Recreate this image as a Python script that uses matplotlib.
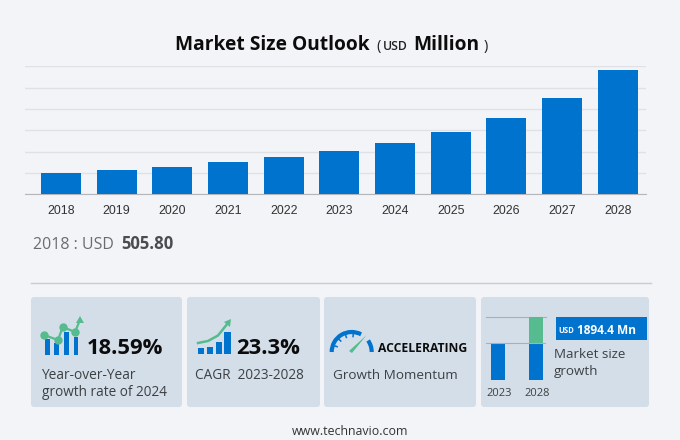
import matplotlib
matplotlib.use('Agg')
import matplotlib.pyplot as plt
import numpy as np
from matplotlib.patches import FancyBboxPatch, Rectangle, Arc, Polygon

years = [2018, 2019, 2020, 2021, 2022, 2023, 2024, 2025, 2026, 2027, 2028]
market_size = [505.8, 569, 646, 749, 873, 1021, 1211, 1459, 1794, 2248, 2915]
y_ticks = [0, 500, 1000, 1500, 2000, 2500, 3000]
mini_years = ['2023', '2028']
mini_base = [55, 55]
mini_added = [0, 40]

BG = '#f3f4f7'
BLUE = '#0073cf'
GREEN = '#56bb8e'
PANEL = '#d3dee9'
DARK = '#3c4043'

W, H = 680, 440
fig = plt.figure(figsize=(W / 100, H / 100), dpi=100, facecolor=BG)


def axes_px(x0, y0, x1, y1):
    # pixel box measured from the top left of the picture
    return fig.add_axes([x0 / W, 1 - y1 / H, (x1 - x0) / W, (y1 - y0) / H])


# main bars
ax = axes_px(25, 66.2, 646, 194.3)
ax.set_facecolor('none')
ax.bar(range(len(years)), market_size, width=0.72, color=BLUE, zorder=3)
ax.set_xlim(-0.647, 10.51)
ax.set_ylim(0, 3000)
ax.set_yticks(y_ticks)
ax.set_yticklabels([])
ax.set_xticks(range(len(years)))
ax.set_xticklabels(years, fontsize=8.9, family='Liberation Sans', color='#333333')
ax.tick_params(axis='both', length=0)
ax.tick_params(axis='x', pad=7.5)
ax.grid(axis='y', color='#dfe1e6', linewidth=1, zorder=0)
for s in ['top', 'left', 'right']:
    ax.spines[s].set_visible(False)
ax.spines['bottom'].set_color('#b4b6ba')

# everything else is placed in picture pixels
bg = fig.add_axes([0, 0, 1, 1], zorder=5)
bg.set_xlim(0, W)
bg.set_ylim(H, 0)
bg.axis('off')


def txt(x, y, s, size, color=DARK, weight='normal', ha='left', family='Open Sans'):
    bg.text(x, y, s, fontsize=size, color=color, fontweight=weight, ha=ha,
            va='baseline', family=family)


txt(175, 50, 'Market Size Outlook', 13.8, '#0c0c0c', 'bold')
txt(376, 50, '(', 10.5, '#222222')
txt(383, 50, 'USD', 8.8, '#222222', 'semibold')
txt(413, 50, 'Million', 13.8, '#0c0c0c', 'bold')
txt(484, 50, ')', 10.5, '#222222')

txt(33, 249, '2018 : USD', 11.5, '#6a6d70')
txt(121, 249, '505.80', 12, '#4a4c4f', 'bold')

bg.plot([31, 651], [283.5, 283.5], color='#c9cbd0', lw=1)

# panels
for x0, x1 in [(31, 182), (187, 320), (324, 476), (481, 649)]:
    bg.add_patch(FancyBboxPatch((x0 + 3, 300), x1 - x0 - 6, 104,
                                boxstyle='round,pad=3', fc=PANEL, ec='none'))

# panel 1 icon
for x, top in [(47.3, 339), (56.7, 343), (66.7, 332), (76, 337)]:
    bg.add_patch(Rectangle((x - 2.4, top), 4.8, 355 - top, fc=BLUE, ec='none'))
line_x = [44, 58, 62.7, 75, 80]
line_y = [335, 340, 327, 332, 320]
bg.plot(line_x, line_y, color=GREEN, lw=1.6)
bg.plot(line_x[:4], line_y[:4], 'o', color=GREEN, ms=5)
bg.add_patch(Polygon([[80, 316], [76, 323], [84, 323]], fc=GREEN, ec='none'))
txt(87, 354, '18.59%', 15.8, '#0c0c0c', 'bold')
txt(41.5, 379, 'Year-over-Year', 9.9)
txt(41.5, 396, 'growth rate of 2024', 9.8)

# panel 2 icon
for x, top in [(201, 348), (210, 346.7), (219, 341.7), (227.3, 332)]:
    bg.add_patch(Rectangle((x - 3.2, top), 6.4, 354 - top, fc=BLUE, ec='none'))
bg.plot([198, 208, 218, 228], [343, 341, 335.5, 323], color=GREEN, lw=1.8)
bg.add_patch(Polygon([[231, 319], [224, 322], [230, 327]], fc=GREEN, ec='none'))
txt(236, 354, '23.3%', 15.8, '#0c0c0c', 'bold')
txt(195, 379, 'CAGR  2023-2028', 9.8)

# panel 3 gauge
bg.add_patch(Arc((351.7, 352), 40, 40, theta1=180, theta2=298, color=BLUE, lw=3))
bg.add_patch(Arc((351.7, 352), 40, 40, theta1=325, theta2=360, color=BLUE, lw=3))
for deg in [200, 225, 250, 275]:
    a = np.radians(deg)
    bg.plot([351.7 + 19 * np.cos(a), 351.7 + 15.5 * np.cos(a)],
            [352 + 19 * np.sin(a), 352 + 15.5 * np.sin(a)], color=BLUE, lw=1.1)
bg.add_patch(Polygon([[349, 351], [352, 353], [366.7, 335]], fc=GREEN, ec='none'))
txt(377.5, 352, 'ACCELERATING', 8.7, '#0c0c0c', 'bold')
txt(333, 379, 'Growth Momentum', 9.7)

# panel 4 mini chart
mini = axes_px(486, 316.7, 546, 380)
mini.set_facecolor('none')
mini.set_zorder(6)
mini.bar([0, 1], mini_base, width=0.37, color=BLUE)
mini.bar([0, 1], mini_added, bottom=mini_base, width=0.37, color=GREEN)
mini.set_xlim(-0.326, 1.265)
mini.set_ylim(0, 95)
mini.axis('off')
mini.axhline(55, color='#a9afb6', lw=0.8)
mini.axhline(95, color='#a9afb6', lw=0.8, clip_on=False, zorder=0)
txt(499, 396, mini_years[0], 8, ha='center')
txt(537, 396, mini_years[1], 8, ha='center')
bg.add_patch(Rectangle((556, 317.3), 90.7, 22.7, fc=BLUE, ec='none'))
txt(558, 333, 'USD', 5.6, 'white', 'bold')
txt(577, 334, '1894.4 Mn', 8.6, 'white', 'bold')
txt(554, 358, 'Market size', 9.6)
txt(554, 375, 'growth', 9.6)

txt(350, 435, 'www.technavio.com', 8.9, '#333333', ha='center')

fig.savefig('out.png', dpi=100, facecolor=BG)
